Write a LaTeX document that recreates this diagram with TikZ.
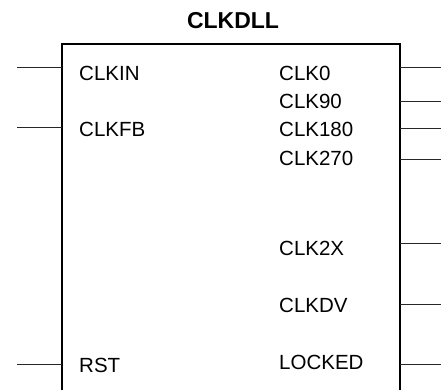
\documentclass[tikz,border=0pt]{standalone}
\usepackage{fontspec}
\setmainfont{Liberation Sans}
\begin{document}
\begin{tikzpicture}[x=1pt,y=-1pt,
  lbl/.style={anchor=base west,inner sep=0pt,font=\fontsize{20.5}{23}\selectfont},
  pin/.style={line width=1pt,draw=black!85},
  boxline/.style={line width=2.2pt,line cap=rect}]
\useasboundingbox (0,0) rectangle (441,389);
% box
\coordinate (bl) at (62,395);
\coordinate (tl) at (62,44);
\coordinate (tr) at (400,44);
\coordinate (br) at (400,395);
\draw[boxline] (bl) -- (tl) -- (tr) -- (br);
\node[anchor=base,inner sep=0pt,font=\fontsize{23}{26}\selectfont\bfseries] (title) at (233,28.3) {CLKDLL};
% left pins
\foreach \n/\y/\t/\b in {clkin/67/CLKIN/80.5, clkfb/127/CLKFB/136, rst/364/RST/372}{
  \coordinate (\n-o) at (17,\y);
  \coordinate (\n-i) at (62,\y);
  \draw[pin] (\n-o) -- (\n-i);
  \node[lbl] (\n) at (79,\b) {\t};
}
% right pins
\foreach \n/\y/\t/\b in {clk0/67/CLK0/80, clk90/101/CLK90/108.3, clk180/128/CLK180/136, clk270/159/CLK270/165.7, clk2x/243/CLK2X/255.7, clkdv/304/CLKDV/312, locked/364/LOCKED/369}{
  \coordinate (\n-i) at (400,\y);
  \coordinate (\n-o) at (441,\y);
  \draw[pin] (\n-i) -- (\n-o);
  \node[lbl] (\n) at (279,\b) {\t};
}
\end{tikzpicture}
\end{document}
